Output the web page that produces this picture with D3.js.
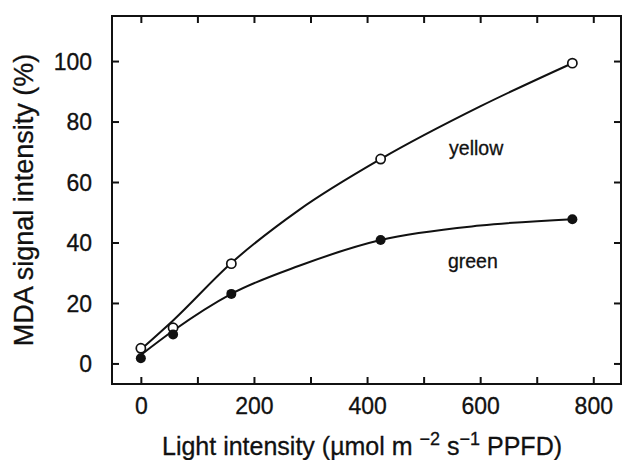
<!DOCTYPE html>
<html><head><meta charset="utf-8">
<script src="https://cdn.jsdelivr.net/npm/d3@7"></script>
<style>body{margin:0;background:#fff}svg{display:block}text{font-family:"Liberation Sans",Arial,Helvetica,sans-serif;fill:#111;stroke:#111;stroke-width:0.3px}</style>
</head><body><svg id="c" width="622" height="460"></svg>
<script>
// measured points
const lightX = [0, 57, 160, 424, 763];
const yellowValues = [5.0, 11.8, 33.0, 67.6, 99.3];
const greenValues = [1.7, 9.6, 23.0, 40.8, 47.7];
// fitted curves
const curveX = [0, 57, 160, 280, 424, 600, 763];
const yellowCurve = [4.6, 14.2, 33.2, 50.8, 67.6, 85.0, 99.3];
const greenCurve = [2.8, 10.8, 23.0, 32.3, 40.8, 45.6, 47.7];
const xTicks = [0, 100, 200, 300, 400, 500, 600, 700, 800];
const xTickLabels = [0, 200, 400, 600, 800];
const yTicks = [0, 20, 40, 60, 80, 100];
const seriesLabels = [{name: "yellow", x: 545, y: 68.9}, {name: "green", x: 543, y: 31.6}];

const svg = d3.select("#c");
const L = 112, R = 621, T = 16, B = 384;
const x = d3.scaleLinear().domain([-51, 849]).range([L, R]);
const y = d3.scaleLinear().domain([-6.8, 114.9]).range([B, T]);

svg.append("rect").attr("x", L).attr("y", T).attr("width", R - L).attr("height", B - T)
  .attr("fill", "none").attr("stroke", "#111").attr("stroke-width", 2);

const tickLen = 7;
const bottomAxis = d3.axisBottom(x).tickValues(xTicks).tickSizeInner(-tickLen).tickSizeOuter(0)
  .tickPadding(14).tickFormat(d => xTickLabels.includes(d) ? d : "");
const gb = svg.append("g").attr("transform", `translate(0,${B})`).call(bottomAxis);
const topAxis = d3.axisTop(x).tickValues(xTicks).tickSizeInner(-tickLen).tickSizeOuter(0).tickFormat("");
const gt = svg.append("g").attr("transform", `translate(0,${T})`).call(topAxis);
const leftAxis = d3.axisLeft(y).tickValues(yTicks).tickSizeInner(-tickLen).tickSizeOuter(0).tickPadding(20);
const gl = svg.append("g").attr("transform", `translate(${L},0)`).call(leftAxis);
const rightAxis = d3.axisRight(y).tickValues(yTicks).tickSizeInner(-tickLen).tickSizeOuter(0).tickFormat("");
const gr = svg.append("g").attr("transform", `translate(${R},0)`).call(rightAxis);
[gb, gt, gl, gr].forEach(g => {
  g.select(".domain").remove();
  g.selectAll(".tick line").attr("stroke", "#111").attr("stroke-width", 2);
  g.selectAll(".tick text").attr("font-size", 23).attr("font-family", "Liberation Sans, Arial, sans-serif")
    .attr("fill", "#111").attr("stroke", "#111").attr("stroke-width", 0.3);
});
gb.selectAll(".tick text").attr("dy", "0.71em");
gl.selectAll(".tick text").attr("dy", "0.36em");

const line = d3.line().x(d => x(d[0])).y(d => y(d[1])).curve(d3.curveMonotoneX);
const yLine = curveX.map((v, i) => [v, yellowCurve[i]]);
const gLine = curveX.map((v, i) => [v, greenCurve[i]]);
svg.append("path").attr("d", line(yLine)).attr("fill", "none").attr("stroke", "#111").attr("stroke-width", 2);
svg.append("path").attr("d", line(gLine)).attr("fill", "none").attr("stroke", "#111").attr("stroke-width", 2);

const yellow = lightX.map((v, i) => [v, yellowValues[i]]);
const green = lightX.map((v, i) => [v, greenValues[i]]);
svg.selectAll(".py").data(yellow).enter().append("circle")
  .attr("cx", d => x(d[0])).attr("cy", d => y(d[1])).attr("r", 4.6)
  .attr("fill", "#fff").attr("stroke", "#111").attr("stroke-width", 1.7);
svg.selectAll(".pg").data(green).enter().append("circle")
  .attr("cx", d => x(d[0])).attr("cy", d => y(d[1])).attr("r", 5)
  .attr("fill", "#111");

svg.selectAll(".sl").data(seriesLabels).enter().append("text")
  .attr("x", d => x(d.x)).attr("y", d => y(d.y)).attr("font-size", 19.5).text(d => d.name);

const xt = svg.append("text").attr("x", 162).attr("y", 455).attr("font-size", 25);
xt.append("tspan").text("Light intensity (\u00b5mol m ");
xt.append("tspan").attr("dy", -10).attr("font-size", 18).text("\u22122");
xt.append("tspan").attr("dy", 10).text(" s");
xt.append("tspan").attr("dy", -10).attr("font-size", 18).text("\u22121");
xt.append("tspan").attr("dy", 10).text(" PPFD)");

svg.append("text").attr("transform", "translate(33,200) rotate(-90)").attr("text-anchor", "middle")
  .attr("font-size", 27).text("MDA signal intensity (%)");
</script></body></html>
